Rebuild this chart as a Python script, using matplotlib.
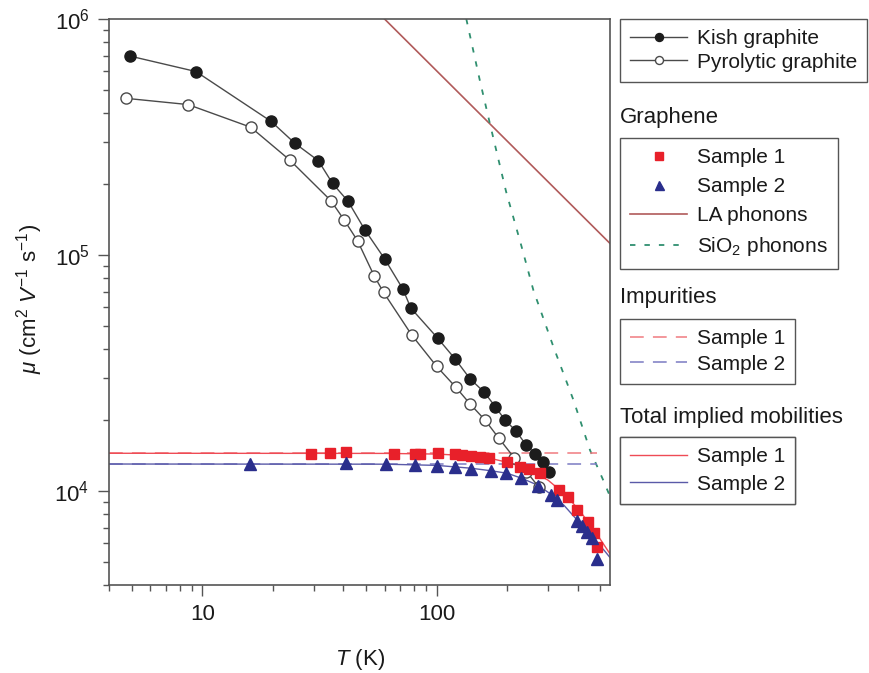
import matplotlib
matplotlib.use("Agg")
import matplotlib.pyplot as plt
from matplotlib.ticker import FuncFormatter, NullFormatter, LogLocator

plt.rcParams['font.family'] = ['Liberation Sans', 'DejaVu Sans']
plt.rcParams['mathtext.fontset'] = 'custom'
plt.rcParams['mathtext.rm'] = 'Liberation Sans'
plt.rcParams['mathtext.it'] = 'Liberation Sans:italic'
plt.rcParams['mathtext.bf'] = 'Liberation Sans:bold'
plt.rcParams['mathtext.default'] = 'regular'

# ---- data ----
kish_T = [4.9, 9.4, 19.7, 24.8, 31.3, 36.0, 41.9, 49.4, 60.1, 71.8, 77.7, 101, 120,
          139, 160, 178, 196, 218, 241, 263, 284, 303]
kish_mu = [6.97e5, 5.99e5, 3.68e5, 2.98e5, 2.51e5, 2.01e5, 1.69e5, 1.28e5, 9.62e4,
           7.18e4, 5.96e4, 4.45e4, 3.63e4, 2.99e4, 2.62e4, 2.28e4, 2.00e4, 1.80e4,
           1.57e4, 1.44e4, 1.33e4, 1.21e4]

pyro_T = [4.75, 8.7, 16.1, 23.7, 35.4, 40.3, 46.0, 54.1, 59.4, 78.4, 100, 121, 139,
          161, 184, 215, 242, 273]
pyro_mu = [4.61e5, 4.34e5, 3.48e5, 2.52e5, 1.70e5, 1.41e5, 1.15e5, 8.18e4, 6.95e4,
           4.58e4, 3.38e4, 2.75e4, 2.34e4, 2.00e4, 1.68e4, 1.38e4, 1.21e4, 1.04e4]

s1_T = [29, 35, 41, 66, 81, 85, 101, 120, 128, 141, 154, 168, 200, 228, 247, 276,
        333, 365, 398, 442, 472, 483]
s1_mu = [14400, 14500, 14600, 14400, 14400, 14300, 14500, 14300, 14200, 14050, 13900,
         13750, 13300, 12700, 12450, 11950, 10150, 9430, 8330, 7370, 6640, 5800]

s2_T = [16, 41, 61, 81, 100, 120, 140, 170, 198, 229, 272, 308, 327, 398, 419, 438,
        459, 485]
s2_mu = [13000, 13100, 13000, 12900, 12800, 12680, 12430, 12200, 11960, 11370, 10550,
         9620, 9160, 7500, 7080, 6720, 6300, 5180]

imp_T = [4, 483]
imp1_mu = [14460, 14460]
imp2_mu = [13020, 13020]

la_T = [60, 550]
la_mu = [1.0e6, 1.12e5]

sio2_T = [134, 153, 169, 198, 231, 259, 315, 384, 452, 515, 550]
sio2_mu = [1.0e6, 5.5e5, 3.6e5, 1.86e5, 1.08e5, 7.1e4, 4.1e4, 2.43e4, 1.49e4,
           1.11e4, 9.5e3]

tot1_T = [4, 60, 100, 140, 170, 200, 230, 260, 300, 340, 380, 420, 460, 500, 550]
tot1_mu = [14460, 14440, 14350, 14100, 13750, 13250, 12700, 12050, 11100, 10000,
           8950, 7950, 7050, 6250, 5420]
tot2_T = [4, 60, 100, 140, 170, 200, 230, 270, 310, 350, 400, 440, 480, 520, 550]
tot2_mu = [13020, 13000, 12850, 12500, 12200, 11900, 11350, 10600, 9650, 8700, 7500,
           6750, 6100, 5600, 5230]

# ---- colours ----
c_dark = '#1c1c1c'
c_gline = '#4a4a4a'
c_red = '#e8202a'
c_blue = '#2a2e8c'
c_tot1 = '#ef4b55'
c_tot2 = '#5a5aa8'
c_imp1 = '#f07a80'
c_imp2 = '#7a7ac2'
c_la = '#b05a5a'
c_sio2 = '#2f8f6f'
c_axis = '#555555'
c_text = '#1a1a1a'

W, H = 870, 673
fig = plt.figure(figsize=(W / 100, H / 100), dpi=100)
ax = fig.add_axes([109 / W, 1 - 585 / H, 501 / W, 566 / H])
ax.set_xscale('log')
ax.set_yscale('log')
ax.set_xlim(4, 550)
ax.set_ylim(4000, 1e6)

dash = (0, (9, 6))

# model curves
l_la, = ax.plot(la_T, la_mu, color=c_la, lw=1.2, zorder=2)
l_sio2, = ax.plot(sio2_T, sio2_mu, color=c_sio2, lw=1.3, ls=(0, (3, 5)), zorder=2)
l_imp1, = ax.plot(imp_T, imp1_mu, color=c_imp1, lw=1.1, ls=dash, zorder=2)
l_imp2, = ax.plot(imp_T, imp2_mu, color=c_imp2, lw=1.1, ls=dash, zorder=2)
l_tot1, = ax.plot(tot1_T, tot1_mu, color=c_tot1, lw=1.0, zorder=2)
l_tot2, = ax.plot(tot2_T, tot2_mu, color=c_tot2, lw=1.0, zorder=2)

# graphite
l_kish, = ax.plot(kish_T, kish_mu, color=c_gline, lw=1.0, marker='o', ms=8,
                  mfc=c_dark, mec=c_dark, zorder=3)
l_pyro, = ax.plot(pyro_T, pyro_mu, color=c_gline, lw=1.0, marker='o', ms=8,
                  mfc='white', mec=c_gline, mew=1.0, zorder=3)

# graphene samples
l_s1, = ax.plot(s1_T, s1_mu, ls='none', marker='s', ms=7.5, mfc=c_red, mec=c_red,
                zorder=4)
l_s2, = ax.plot(s2_T, s2_mu, ls='none', marker='^', ms=9, mfc=c_blue, mec=c_blue,
                zorder=4)

# axes styling
for sp in ax.spines.values():
    sp.set_color(c_axis)
    sp.set_linewidth(1.2)
ax.tick_params(which='both', direction='out', top=False, right=False,
               color=c_axis, width=1.0, labelsize=16, labelcolor=c_text)
ax.tick_params(which='major', length=8, pad=6)
ax.tick_params(which='minor', length=4.5)
ax.xaxis.set_major_formatter(FuncFormatter(lambda v, _: f'{v:g}'))
ax.xaxis.set_minor_formatter(NullFormatter())
ax.yaxis.set_minor_formatter(NullFormatter())
ax.yaxis.set_major_locator(LogLocator(base=10, numticks=10))
ax.yaxis.set_minor_locator(LogLocator(base=10, subs=range(2, 10), numticks=20))

fig.text(30 / W, 1 - 299 / H, r'$\mathit{\mu}$ (cm$^2$ $\mathit{V}^{-1}$ s$^{-1}$)',
         rotation=90, ha='center', va='center', fontsize=16, color=c_text)
fig.text(360 / W, 1 - 660 / H, r'$\mathit{T}$ (K)', ha='center', va='center',
         fontsize=16, color=c_text)

# legends
leg_kw = dict(loc='upper left', bbox_transform=fig.transFigure, borderaxespad=0,
              frameon=True, fancybox=False, edgecolor=c_axis, framealpha=1,
              handlelength=2.7, handletextpad=0.48, borderpad=0.5,
              fontsize=15, markerscale=0.72, numpoints=1)


def add_legend(handles, labels, top_px, spacing):
    lg = ax.legend(handles, labels, bbox_to_anchor=(620 / W, 1 - top_px / H),
                   labelspacing=spacing, **leg_kw)
    lg.get_frame().set_linewidth(1.0)
    for t in lg.get_texts():
        t.set_color(c_text)
    ax.add_artist(lg)
    return lg


add_legend([l_kish, l_pyro], ['Kish graphite', 'Pyrolytic graphite'], 19, 0.2)
add_legend([l_s1, l_s2, l_la, l_sio2],
           ['Sample 1', 'Sample 2', 'LA phonons', 'SiO$_2$ phonons'], 138, 0.48)
add_legend([l_imp1, l_imp2], ['Sample 1', 'Sample 2'], 319, 0.3)
add_legend([l_tot1, l_tot2], ['Sample 1', 'Sample 2'], 437, 0.39)

for txt, y in [('Graphene', 117), ('Impurities', 298),
               ('Total implied mobilities', 417)]:
    fig.text(620 / W, 1 - y / H, txt, ha='left', va='center', fontsize=16,
             color=c_text)

fig.savefig('out.png', dpi=100)
